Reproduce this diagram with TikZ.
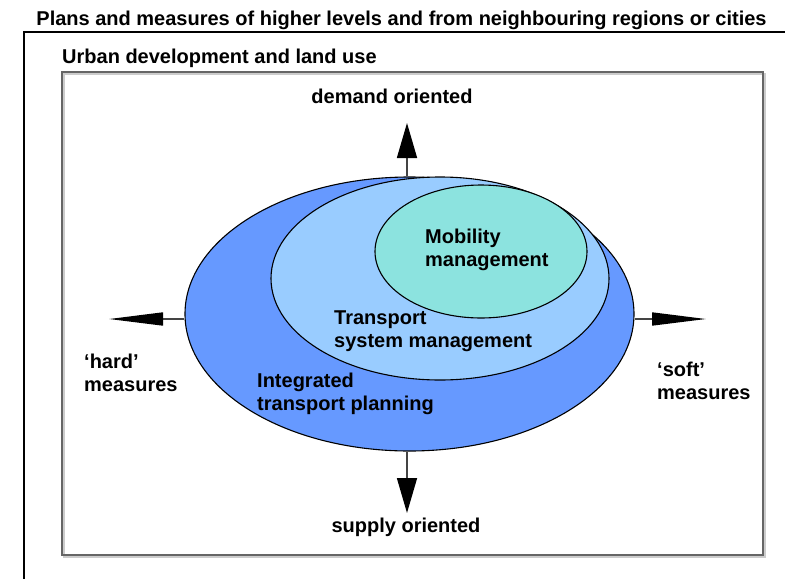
\documentclass[tikz,border=0pt]{standalone}
\usepackage{fontspec}
\setmainfont{Liberation Sans}
\usetikzlibrary{shapes.geometric,arrows.meta}
\definecolor{outerblue}{HTML}{6699FF}
\definecolor{midblue}{HTML}{99CCFF}
\definecolor{innerteal}{HTML}{8CE3DF}
\definecolor{boxgrey}{HTML}{666666}
\definecolor{stemgrey}{HTML}{444444}
\tikzset{
  lbl/.style={font=\bfseries\fontsize{20}{23}\selectfont, inner sep=0pt, align=left},
  oval/.style={ellipse, draw=black, line width=1.1pt, inner sep=0pt},
  vstem/.style={draw=stemgrey, line width=1.6pt, -{Triangle[length=35pt,width=20pt,fill=black,color=black]}},
  hstem/.style={draw=stemgrey, line width=1.6pt, -{Triangle[length=54pt,width=13pt,fill=black,color=black]}},
}
\begin{document}
\begin{tikzpicture}[x=1pt,y=-1pt]
\useasboundingbox (0,0) rectangle (785,579);
% frames
\draw[line width=1.2pt] (785,32) -- (24,32) -- (24,579);
\node[lbl, anchor=base] (title) at (401.5,25) {Plans and measures of higher levels and from neighbouring regions or cities};
\node[lbl, anchor=base west] (urban) at (62,63) {Urban development and land use};
\draw[gray!40, line width=1.6pt] (64,74) rectangle (765,557);
\draw[boxgrey, line width=1.8pt] (62,72) rectangle (763,555);
% ellipses
\node[oval, fill=outerblue, minimum width=449pt, minimum height=274pt] (outer) at (409.5,314) {};
\node[oval, fill=midblue, minimum width=338pt, minimum height=203pt] (mid) at (440,278.5) {};
\node[oval, fill=innerteal, minimum width=212pt, minimum height=133pt] (inner) at (481,251.5) {};
% ellipse labels (base = baseline of last line)
\node[lbl, anchor=base west] (mob) at (425,266) {Mobility\\management};
\node[lbl, anchor=base west] (tsm) at (334,347) {Transport\\system management};
\node[lbl, anchor=base west] (itp) at (257,410) {Integrated\\transport planning};
% arrow end points
\coordinate (tipU) at (407,123);
\coordinate (tipD) at (407,513);
\coordinate (tipL) at (109,319);
\coordinate (tipR) at (706,319);
\draw[vstem] (tipU |- outer.north) -- (tipU);
\draw[vstem] (tipD |- outer.south) -- (tipD);
\draw[hstem] (outer.west |- tipL) -- (tipL);
\draw[hstem] (outer.east |- tipR) -- (tipR);
% axis labels
\node[lbl, anchor=base] (demand) at (392,103) {demand oriented};
\node[lbl, anchor=base] (supply) at (406,532) {supply oriented};
\node[lbl, anchor=base west] (hard) at (84,391) {‘hard’\\measures};
\node[lbl, anchor=base west] (soft) at (657,399) {‘soft’\\measures};
\end{tikzpicture}
\end{document}
